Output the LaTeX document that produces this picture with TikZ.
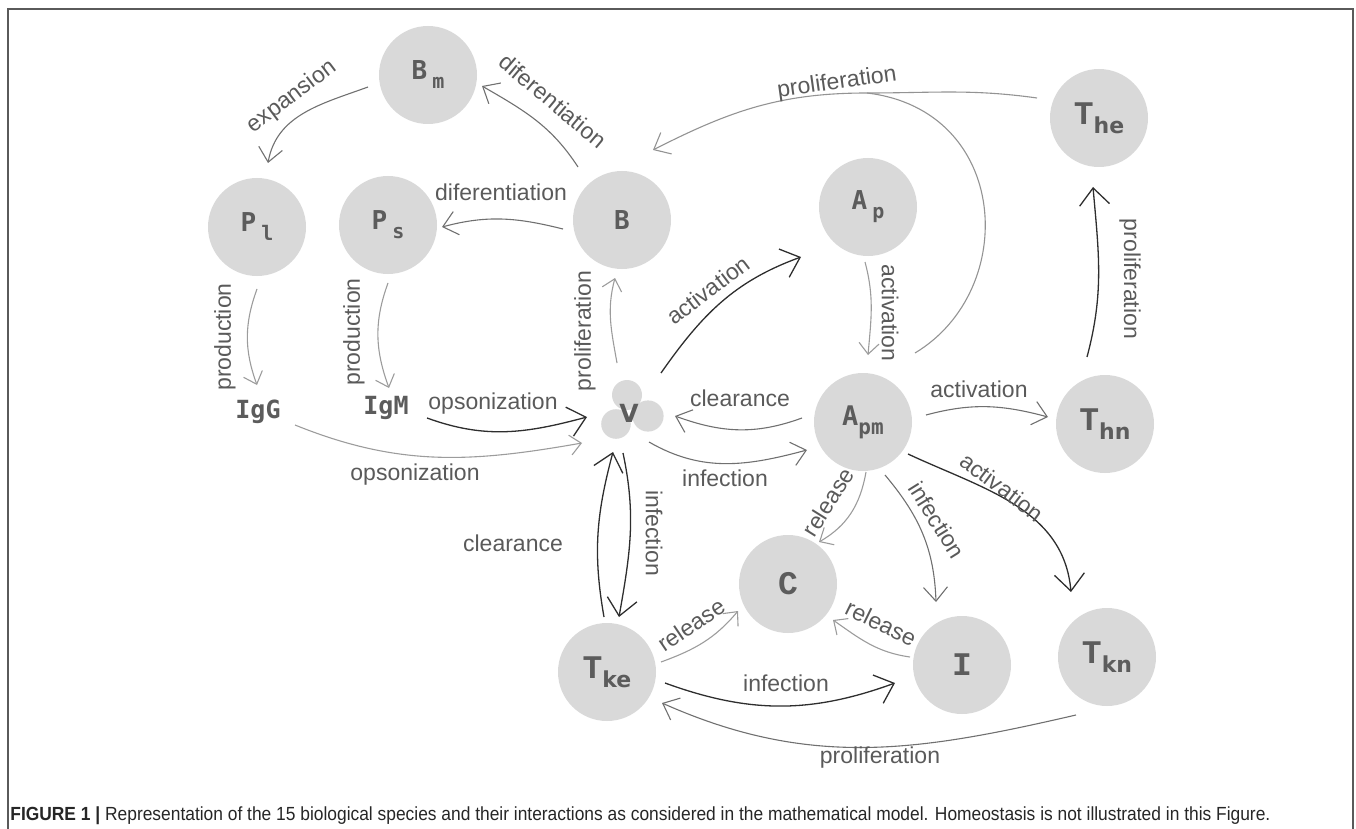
\documentclass[tikz,border=0pt]{standalone}
\usepackage{fontspec}
\usepackage{graphicx}
\setmainfont{Liberation Sans}
\newfontfamily\dmono{DejaVu Sans Mono}
\newfontfamily\cmono{Liberation Mono}
\newfontfamily\dsans{DejaVu Sans}
\usetikzlibrary{arrows.meta,calc}
\definecolor{nodefill}{HTML}{D9D9D9}
\definecolor{nodetext}{HTML}{5C5C5C}
\definecolor{labc}{HTML}{5A5A5A}
\definecolor{edk}{HTML}{2E2E2E}
\definecolor{emd}{HTML}{707070}
\definecolor{elt}{HTML}{9C9C9C}
\definecolor{framec}{HTML}{5A5A5A}
\newcommand{\Lm}[2]{{\dmono\bfseries\fontsize{13}{14}\selectfont #1\hspace{2.5pt}\raisebox{-4.5pt}{\fontsize{10}{12}\selectfont #2}}}
\newcommand{\Lt}[2]{{\cmono\bfseries\fontsize{16.5}{18}\selectfont #1}\raisebox{-4.5pt}{\dsans\bfseries\fontsize{11}{12}\selectfont #2}}
\tikzset{
  sp/.style={circle, fill=nodefill, minimum size=49pt, inner sep=0pt, text=nodetext},
  vv/.style={circle, minimum size=31pt, inner sep=0pt, text=nodetext},
  tx/.style={inner sep=0pt, text=nodetext},
  el/.style={font=\fontsize{11.5}{13}\selectfont, text=labc, inner sep=0pt},
  dk/.style={draw=edk, line width=0.65pt, -{Straight Barb[length=8.5pt,width=15pt]}},
  md/.style={draw=emd, line width=0.55pt, -{Straight Barb[length=7pt,width=12pt]}},
  lt/.style={draw=elt, line width=0.55pt, -{Straight Barb[length=5.5pt,width=10pt]}},
}
\begin{document}
\begin{tikzpicture}[x=0.5pt,y=-0.5pt]
\useasboundingbox (0,0) rectangle (1356,829);
\draw[framec, line width=1pt] (8,829) -- (8,9) -- (1353,9) -- (1353,829);

% species
\node[sp] (Bm) at (428,75) {\Lm{B}{m}};
\node[sp] (Pl) at (257,227) {\Lm{P}{l}};
\node[sp] (Ps) at (388,225) {\Lm{P}{s}};
\node[sp] (B) at (622,220) {{\dmono\bfseries\fontsize{13}{14}\selectfont B}};
\node[sp] (Ap) at (868,207) {\Lm{A}{p}};
\node[sp] (Apm) at (863,422) {{\dmono\bfseries\fontsize{13.5}{14}\selectfont A\raisebox{-4.5pt}{\fontsize{10.5}{12}\selectfont pm}}};
\node[sp] (The) at (1099,118) {\Lt{T}{he}};
\node[sp] (Thn) at (1105,424) {\Lt{T}{hn}};
\node[sp] (Tkn) at (1107,657) {\Lt{T}{kn}};
\node[sp] (C) at (788,584) {{\cmono\bfseries\fontsize{16.5}{18}\selectfont C}};
\node[sp] (I) at (962,665) {{\cmono\bfseries\fontsize{16.5}{18}\selectfont I}};
\node[sp] (Tke) at (607,672) {\Lt{T}{ke}};
\node[tx] (IgG) at (258,412) {{\dmono\bfseries\fontsize{12.5}{14}\selectfont IgG}};
\node[tx] (IgM) at (386,408) {{\dmono\bfseries\fontsize{12.5}{14}\selectfont IgM}};
% virus cluster
\fill[nodefill] (627,395) circle[radius=7.5pt];
\fill[nodefill] (616,424) circle[radius=7.4pt];
\fill[nodefill] (648,416) circle[radius=7.8pt];
\node[vv] (V) at (632,409) {};
\node[tx] (Vl) at (629,413) {{\dsans\bfseries\fontsize{12.5}{14}\selectfont V}};

% connectors
\draw[md] ($(Bm)+(-60,12)$) to[out=200,in=80] ($(Pl)+(11,-64)$);
\draw[md] ($(B)+(-44,-53)$) to[out=123,in=-30] ($(Bm)+(54,11)$);
\draw[md] ($(B)+(-59,9)$) to[out=166,in=15] ($(Ps)+(54,2)$);
\draw[lt] ($(Pl)+(0,62)$) to[out=250,in=110] ($(IgG)+(-1,-27)$);
\draw[lt] ($(Ps)+(0,58)$) to[out=250,in=110] ($(IgM)+(3,-20)$);
\draw[dk] ($(IgM)+(41,10)$) to[out=-20,in=195] ($(V)+(-45,8)$);
\draw[lt] ($(IgG)+(37,13)$) to[out=-22,in=190] ($(V)+(-50,34)$);
\draw[lt] ($(V)+(-15,-46)$) to[out=100,in=255] ($(B)+(-7,58)$);
\draw[dk] ($(V)+(29,-36)$) to[out=55,in=200] ($(Ap)+(-67,50)$);
\draw[lt] ($(Ap)+(-3,55)$) to[out=-75,in=85] ($(Apm)+(5,-67)$);
\draw[md] ($(Apm)+(-61,-4)$) to[out=200,in=-20] ($(V)+(43,7)$);
\draw[md] ($(V)+(17,33)$) to[out=-30,in=195] ($(Apm)+(-56,28)$);
\coordinate (join) at (867,93);
\draw[md, draw=elt!80!emd] ($(The)+(-62,-20)$) to[out=172,in=0] (join) to[out=180,in=27] ($(B)+(31,-70)$);
\draw[draw=elt!80!emd, line width=0.55pt] ($(Apm)+(52,-69)$) .. controls ($(Apm)+(157,-132)$) and ($(The)+(-89,-8)$) .. (join);
\draw[dk] ($(Thn)+(-18,-67)$) to[out=75,in=-85] ($(The)+(-6,69)$);
\draw[md] ($(Apm)+(63,-7)$) to[out=15,in=165] ($(Thn)+(-57,-7)$);
\draw[dk] ($(Apm)+(45,32)$) to[out=-25,in=95] ($(Tkn)+(-36,-65)$);
\draw[lt] ($(Apm)+(3,50)$) to[out=-100,in=30] ($(C)+(31,-42)$);
\draw[md] ($(Apm)+(22,53)$) to[out=-50,in=92] ($(I)+(-26,-63)$);
\draw[lt] ($(I)+(-52,-8)$) to[out=172,in=-35] ($(C)+(45,36)$);
\draw[lt] ($(Tke)+(54,-10)$) to[out=20,in=230] ($(C)+(-50,27)$);
\draw[dk] ($(Tke)+(58,11)$) to[out=-20,in=200] ($(I)+(-67,18)$);
\draw[md] ($(Tkn)+(-31,58)$) to[out=193,in=-24] ($(Tke)+(55,31)$);
\draw[dk] ($(Tke)+(-3,-55)$) to[out=100,in=-105] ($(V)+(-19,43)$);
\draw[dk] ($(V)+(-9,44)$) to[out=-78,in=80] ($(Tke)+(12,-55)$);

% labels
\node[el, rotate=37] (l1) at (292,97) {expansion};
\node[el, rotate=-40] (l2) at (553,101) {diferentiation};
\node[el] (l3) at (501,192) {diferentiation};
\node[el, rotate=90] (l4) at (225,337) {production};
\node[el, rotate=90] (l5) at (354,332) {production};
\node[el] (l6) at (493,404) {opsonization};
\node[el] (l7) at (415,475) {opsonization};
\node[el, rotate=90] (l8) at (585,331) {proliferation};
\node[el, rotate=37] (l9) at (708,290) {activation};
\node[el, rotate=-90] (l10) at (890,313) {activation};
\node[el] (l11) at (740,398) {clearance};
\node[el] (l12) at (725,478) {infection};
\node[el, rotate=8] (l13) at (837,83) {proliferation};
\node[el, rotate=-90] (l14) at (1130,279) {proliferation};
\node[el] (l15) at (979,389) {activation};
\node[el, rotate=-37] (l16) at (1002,487) {activation};
\node[el, rotate=58] (l17) at (828,502) {release};
\node[el, rotate=-58] (l18) at (937,520) {infection};
\node[el, rotate=-26] (l19) at (881,623) {release};
\node[el, rotate=34] (l20) at (691,625) {release};
\node[el] (l21) at (786,683) {infection};
\node[el] (l22) at (880,758) {proliferation};
\node[el] (l23) at (513,543) {clearance};
\node[el, rotate=-90] (l24) at (654,533) {infection};

% caption
\node[anchor=base west, inner sep=0pt, text=black!85] (cap) at (10,820) {\resizebox{630pt}{\height}{\fontsize{9.5}{11}\selectfont\textbf{FIGURE 1 |} Representation of the 15 biological species and their interactions as considered in the mathematical model. Homeostasis is not illustrated in this Figure.}};
\end{tikzpicture}
\end{document}
